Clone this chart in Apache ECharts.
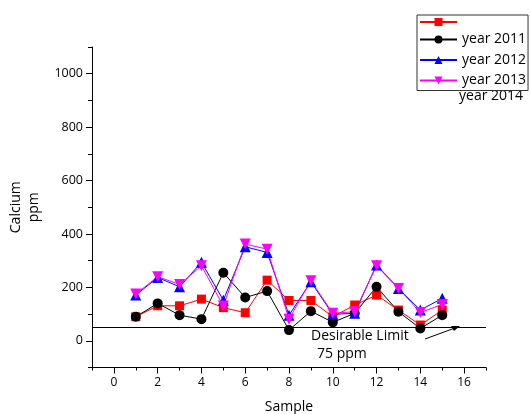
<!DOCTYPE html>
<html>
<head>
<meta charset="utf-8">
<script src="https://cdn.jsdelivr.net/npm/echarts@6/dist/echarts.min.js"></script>
<style>
  html, body { margin: 0; padding: 0; background: #fff; }
  #chart { width: 531px; height: 414px; }
</style>
</head>
<body>
<div id="chart"></div>
<script>
// sample numbers on the x axis
const samples = [1, 2, 3, 4, 5, 6, 7, 8, 9, 10, 11, 12, 13, 14, 15]
// calcium values (ppm)
const redSeries = [90, 131, 131, 156, 124, 105, 227, 151, 151, 90, 134, 171, 115, 59, 115]
const year2011 = [90, 140, 96, 81, 255, 162, 186, 40, 111, 69, 103, 202, 109, 46, 96]
const year2012 = [171, 237, 202, 294, 152, 352, 331, 96, 221, 99, 103, 284, 196, 115, 159]
const year2013 = [175, 240, 211, 281, 130, 362, 343, 81, 225, 103, 109, 281, 196, 106, 136]
const limitValue = 50
// tick labels
const xMajor = [0, 2, 4, 6, 8, 10, 12, 14, 16]
const xMinor = [-1, 1, 3, 5, 7, 9, 11, 13, 15, 17]
const yMajor = [0, 200, 400, 600, 800, 1000]
const yMinor = [-100, 100, 300, 500, 700, 900, 1100]

const font = 'Open Sans'

function pairs (vals) {
  return samples.map((s, i) => [s, vals[i]])
}

function lineSeries (name, vals, color, symbol, size, rotate) {
  return {
    name: name,
    type: 'line',
    data: pairs(vals),
    symbol: symbol,
    symbolSize: size,
    symbolRotate: rotate || 0,
    lineStyle: { color: color, width: 1 },
    itemStyle: { color: color },
    emphasis: { disabled: true },
    animation: false
  }
}

const chart = echarts.init(document.getElementById('chart'))
chart.setOption({
  animation: false,
  textStyle: { fontFamily: font },
  grid: { left: 92, right: 45, top: 47, bottom: 46.5, outerBoundsMode: 'none', containLabel: false },
  xAxis: [
    {
      type: 'value', min: -1, max: 17, interval: 1,
      name: 'Sample', nameLocation: 'middle', nameGap: 33,
      nameTextStyle: { fontSize: 14, color: '#000', fontFamily: font },
      axisLine: { show: true, onZero: false, lineStyle: { color: '#000', width: 1 } },
      axisTick: { show: true, customValues: xMajor, length: 6, lineStyle: { color: '#000' } },
      axisLabel: { customValues: xMajor, color: '#000', fontSize: 12, margin: 9, fontFamily: font },
      splitLine: { show: false }
    },
    {
      type: 'value', min: -1, max: 17, interval: 1, position: 'bottom',
      axisLine: { show: false, onZero: false },
      axisTick: { show: true, customValues: xMinor, length: 3, lineStyle: { color: '#000' } },
      axisLabel: { show: false },
      splitLine: { show: false }
    }
  ],
  yAxis: [
    {
      type: 'value', min: -100, max: 1100, interval: 100,
      name: 'Calcium\nppm', nameLocation: 'middle', nameGap: 47, nameRotate: 90,
      nameTextStyle: { fontSize: 14, color: '#000', lineHeight: 18, fontFamily: font },
      axisLine: { show: true, onZero: false, lineStyle: { color: '#000', width: 1 } },
      axisTick: { show: true, customValues: yMajor, length: 6, lineStyle: { color: '#000' } },
      axisLabel: { customValues: yMajor, formatter: (v) => String(v), color: '#000', fontSize: 12.5, margin: 9, fontFamily: font },
      splitLine: { show: false }
    },
    {
      type: 'value', min: -100, max: 1100, interval: 100, position: 'left',
      axisLine: { show: false, onZero: false },
      axisTick: { show: true, customValues: yMinor, length: 4, lineStyle: { color: '#000' } },
      axisLabel: { show: false },
      splitLine: { show: false }
    }
  ],
  legend: {
    data: ['year 2014', 'year 2011', 'year 2012', 'year 2013'],
    orient: 'vertical',
    left: 417, top: 15,
    padding: [3, 2, 3, 2],
    itemWidth: 37, itemHeight: 10, itemGap: 6.5,
    borderColor: '#333', borderWidth: 1,
    textStyle: { fontSize: 14, color: '#000', lineHeight: 12, fontFamily: font },
    formatter: (name) => (name === 'year 2014' ? '' : name),
    selectedMode: false
  },
  graphic: [
    { type: 'text', left: 459, top: 89, style: { text: 'year 2014', fontSize: 14, fill: '#000', fontFamily: font } },
    { type: 'text', left: 311, top: 329, style: { text: 'Desirable Limit', fontSize: 14, fill: '#000', fontFamily: font } },
    { type: 'text', left: 317, top: 347, style: { text: '75 ppm', fontSize: 14, fill: '#000', fontFamily: font } },
    { type: 'line', shape: { x1: 425, y1: 339, x2: 455, y2: 328 }, style: { stroke: '#000', lineWidth: 1 } },
    { type: 'polygon', shape: { points: [[460, 326], [451, 326], [454, 331]] }, style: { fill: '#000' } }
  ],
  series: [
    lineSeries('year 2014', redSeries, '#ff0000', 'rect', 9),
    lineSeries('year 2011', year2011, '#000000', 'circle', 10),
    lineSeries('year 2012', year2012, '#0000ff', 'triangle', 11),
    lineSeries('year 2013', year2013, '#ff00ff', 'triangle', 11, 180),
    {
      name: 'limit',
      type: 'line',
      data: [],
      markLine: {
        silent: true,
        symbol: 'none',
        label: { show: false },
        lineStyle: { color: '#000', width: 1, type: 'solid' },
        data: [{ yAxis: limitValue }]
      }
    }
  ]
})
</script>
</body>
</html>
